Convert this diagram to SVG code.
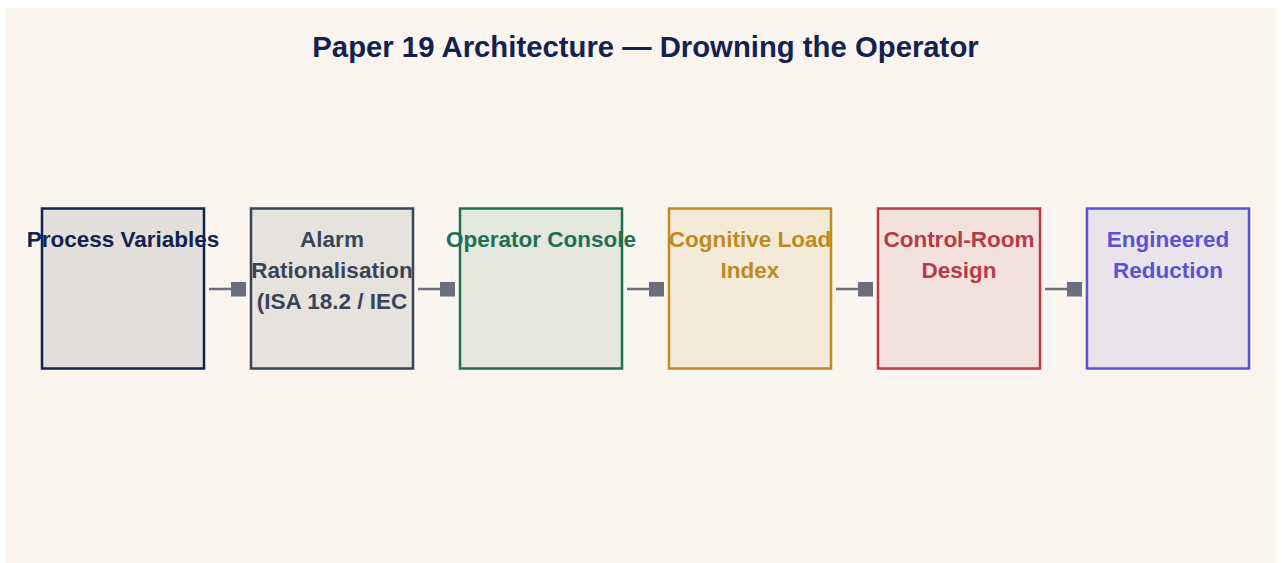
<svg xmlns="http://www.w3.org/2000/svg" width="1282" height="563" viewBox="0 0 1282 563">
  <defs>
    <marker id="sq" viewBox="0 0 10 10" refX="10" refY="5" markerUnits="userSpaceOnUse" markerWidth="15" markerHeight="15" orient="auto">
      <rect x="0" y="0" width="10" height="10" fill="#6b6f7c"/>
    </marker>
    <style>
      .title { font-family: "Liberation Sans", Arial, sans-serif; font-weight: bold; font-size: 29.3px; fill: #13224f; text-anchor: middle; }
      .lbl { font-family: "Liberation Sans", Arial, sans-serif; font-weight: bold; font-size: 22.5px; text-anchor: middle; }
      .box { stroke-width: 2.5; fill-opacity: 0.1; }
      .edge { stroke: #6b6f7c; stroke-width: 2.5; fill: none; marker-end: url(#sq); }
    </style>
  </defs>
  <rect x="0" y="0" width="1282" height="563" fill="#ffffff"/>
  <rect x="5" y="8" width="1272" height="555" fill="#faf5ee"/>
  <text class="title" x="645.5" y="56.5">Paper 19 Architecture — Drowning the Operator</text>

  <g id="connectors">
    <line class="edge" x1="209" y1="289" x2="246" y2="289"/>
    <line class="edge" x1="418" y1="289" x2="455" y2="289"/>
    <line class="edge" x1="627" y1="289" x2="664" y2="289"/>
    <line class="edge" x1="836" y1="289" x2="873" y2="289"/>
    <line class="edge" x1="1045" y1="289" x2="1082" y2="289"/>
  </g>

  <g id="process-variables">
    <rect class="box" x="42" y="208.5" width="162" height="160" fill="#13224f" stroke="#13224f"/>
    <text class="lbl" fill="#13224f" x="123" y="246.5">Process Variables</text>
  </g>
  <g id="alarm-rationalisation">
    <rect class="box" x="251" y="208.5" width="162" height="160" fill="#3a4458" stroke="#3a4458"/>
    <text class="lbl" fill="#3a4458" x="332" y="246.5">Alarm</text>
    <text class="lbl" fill="#3a4458" x="332" y="277.5">Rationalisation</text>
    <text class="lbl" fill="#3a4458" x="332" y="308.5">(ISA 18.2 / IEC</text>
  </g>
  <g id="operator-console">
    <rect class="box" x="460" y="208.5" width="162" height="160" fill="#1e7050" stroke="#1e7050"/>
    <text class="lbl" fill="#1e7050" x="541" y="246.5">Operator Console</text>
  </g>
  <g id="cognitive-load-index">
    <rect class="box" x="669" y="208.5" width="162" height="160" fill="#c08a20" stroke="#c08a20"/>
    <text class="lbl" fill="#c08a20" x="750" y="246.5">Cognitive Load</text>
    <text class="lbl" fill="#c08a20" x="750" y="277.5">Index</text>
  </g>
  <g id="control-room-design">
    <rect class="box" x="878" y="208.5" width="162" height="160" fill="#b83a48" stroke="#b83a48"/>
    <text class="lbl" fill="#b83a48" x="959" y="246.5">Control-Room</text>
    <text class="lbl" fill="#b83a48" x="959" y="277.5">Design</text>
  </g>
  <g id="engineered-reduction">
    <rect class="box" x="1087" y="208.5" width="162" height="160" fill="#5b52d6" stroke="#5b52d6"/>
    <text class="lbl" fill="#5b52d6" x="1168" y="246.5">Engineered</text>
    <text class="lbl" fill="#5b52d6" x="1168" y="277.5">Reduction</text>
  </g>
</svg>
